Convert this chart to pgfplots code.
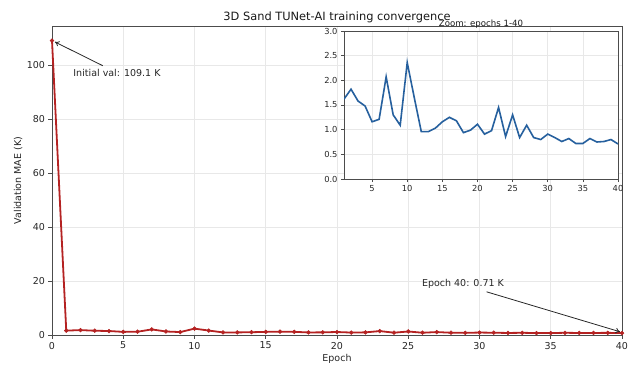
\documentclass[border=0pt]{standalone}
\usepackage{pgfplots}
\pgfplotsset{compat=1.18}
\usetikzlibrary{arrows.meta}
\usepackage{fontspec}
\setmainfont{DejaVu Sans}
\definecolor{myred}{RGB}{180,34,34}
\definecolor{myblue}{RGB}{38,96,158}
\definecolor{gridc}{RGB}{232,232,232}
\pgfplotstableread{
ep mae
0 109.1
1 1.62
2 1.82
3 1.58
4 1.48
5 1.16
6 1.21
7 2.07
8 1.30
9 1.09
10 2.36
11 1.65
12 0.96
13 0.96
14 1.03
15 1.16
16 1.25
17 1.18
18 0.94
19 0.99
20 1.11
21 0.91
22 0.98
23 1.45
24 0.86
25 1.30
26 0.84
27 1.09
28 0.84
29 0.80
30 0.91
31 0.84
32 0.76
33 0.82
34 0.72
35 0.72
36 0.82
37 0.75
38 0.76
39 0.80
40 0.71
}\datatable
\pgfplotstableread{
ep mae
1 1.62
2 1.82
3 1.58
4 1.48
5 1.16
6 1.21
7 2.07
8 1.30
9 1.09
10 2.36
11 1.65
12 0.96
13 0.96
14 1.03
15 1.16
16 1.25
17 1.18
18 0.94
19 0.99
20 1.11
21 0.91
22 0.98
23 1.45
24 0.86
25 1.30
26 0.84
27 1.09
28 0.84
29 0.80
30 0.91
31 0.84
32 0.76
33 0.82
34 0.72
35 0.72
36 0.82
37 0.75
38 0.76
39 0.80
40 0.71
}\zoomtable
\begin{document}
\begin{tikzpicture}
\pgfplotsset{every axis title shift=0pt}
\begin{axis}[
  at={(0pt,0pt)}, anchor=south west,
  scale only axis, width=570pt, height=309pt,
  xmin=0, xmax=40, ymin=0, ymax=114.5,
  xtick={0,5,...,40}, ytick={0,20,...,100},
  tick align=outside, tick pos=left,
  major tick length=3.5pt,
  every tick/.style={black!70, line width=0.6pt},
  axis line style={black!70, line width=0.8pt},
  grid=major, major grid style={gridc, line width=0.6pt},
  font=\fontsize{9.5pt}{11pt}\selectfont,
  /pgf/number format/assume math mode=true,
  ticklabel style={font=\fontsize{9.5pt}{11pt}\selectfont, text=black!85},
  xlabel={Epoch}, ylabel={Validation MAE (K)},
  xlabel style={at={(axis description cs:0.5,-0.0777)}, anchor=center, text=black!85},
  ylabel style={at={(axis description cs:-0.0596,0.5)}, anchor=center, text=black!85},
  title={3D Sand TUNet-AI training convergence},
  title style={at={(axis description cs:0.5,1.029)}, anchor=center, font=\fontsize{11.4pt}{13pt}\selectfont, text=black!90},
  clip=false,
]
\addplot[myred, line width=1.8pt, mark=*, mark size=1.9pt, mark options={fill=myred, draw=myred, line width=0.5pt}] table[x=ep, y=mae] {\datatable};
\node[anchor=center, text=black!85] at (axis cs:4.56,97.1) {Initial val: 109.1 K};
\draw[-{To[length=4.5pt,width=5.5pt]}, black!85, line width=0.8pt] (axis cs:3.56,99.8) -- (axis cs:0.2,108.6);
\node[anchor=center, text=black!85] at (axis cs:28.84,18.9) {Epoch 40: 0.71 K};
\draw[-{To[length=4.5pt,width=5.5pt]}, black!85, line width=0.8pt] (axis cs:30.5,16.0) -- (axis cs:39.86,1.2);
\end{axis}
\begin{axis}[
  at={(292pt,156pt)}, anchor=south west,
  scale only axis, width=274pt, height=148pt,
  xmin=1, xmax=40, ymin=0, ymax=3.0,
  xtick={5,10,...,40}, ytick={0,0.5,...,3.0},
  yticklabel style={/pgf/number format/.cd, fixed, fixed zerofill, precision=1},
  tick align=outside, tick pos=left,
  major tick length=3pt,
  every tick/.style={black!70, line width=0.6pt},
  axis line style={black!70, line width=0.8pt},
  axis background/.style={fill=white},
  grid=major, major grid style={gridc, line width=0.6pt},
  /pgf/number format/assume math mode=true,
  ticklabel style={font=\fontsize{8.3pt}{10pt}\selectfont, text=black!85},
  title={Zoom: epochs 1-40},
  title style={at={(axis description cs:0.5,1.047)}, anchor=center, font=\fontsize{8.6pt}{10pt}\selectfont, text=black!90},
]
\addplot[myblue, line width=1.6pt] table[x=ep, y=mae] {\zoomtable};
\end{axis}
\pgfresetboundingbox
\path[use as bounding box] (-52pt,-30pt) rectangle (585pt,335pt);
\end{tikzpicture}
\end{document}
